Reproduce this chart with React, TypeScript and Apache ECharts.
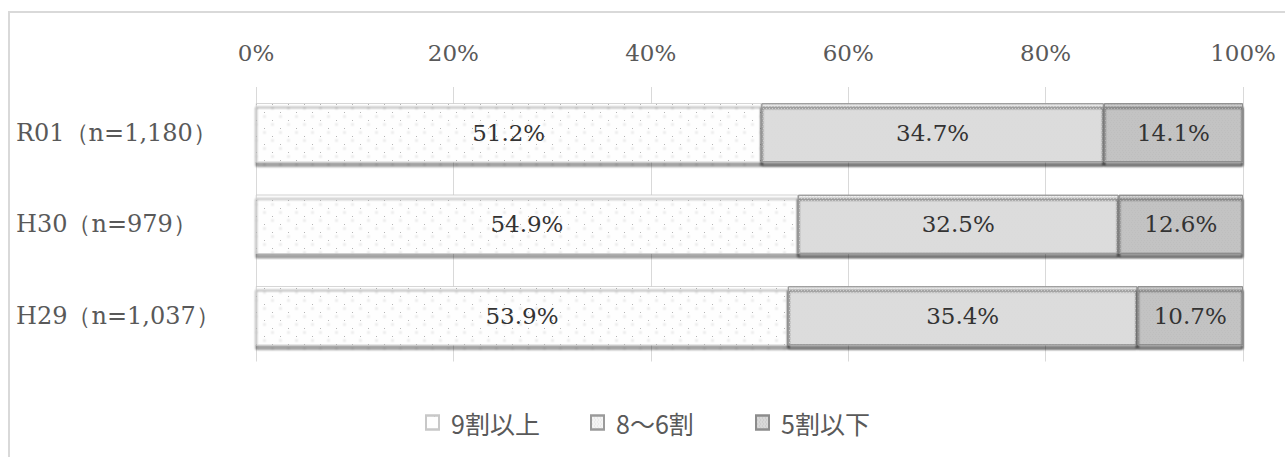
import React, { useEffect, useRef } from "react";
import * as echarts from "echarts";

const categories = ["R01（n=1,180）", "H30（n=979）", "H29（n=1,037）"];
const seriesNames = ["9割以上", "8～6割", "5割以下"];
const over90 = [51.2, 54.9, 53.9];
const mid = [34.7, 32.5, 35.4];
const under50 = [14.1, 12.6, 10.7];
const tickValues = [0, 20, 40, 60, 80, 100];

const SERIF = "DejaVu Serif";
const legendLefts = [425, 590, 755];

export default function App() {
  const ref = useRef<HTMLDivElement>(null);
  useEffect(() => {
    document.body.style.margin = "0";
    const chart = echarts.init(ref.current!, undefined, { renderer: "svg" });
    const shadow = {
      shadowColor: "rgba(0,0,0,0.32)",
      shadowBlur: 2,
      shadowOffsetY: 4,
    };
    const label = {
      show: true,
      position: "inside",
      color: "#333333",
      fontSize: 23,
      fontFamily: SERIF,
      formatter: (p: any) => Number(p.value).toFixed(1) + "%",
    };
    const styles = [
      {
        color: "#fefefe",
        borderColor: "#c8c8c8",
        borderWidth: 0.5,
        decal: {
          symbol: "rect",
          symbolSize: 1,
          color: "rgba(120,120,120,0.55)",
          dashArrayX: [[1, 15], [0, 8, 1, 7]],
          dashArrayY: [1, 7],
        },
        ...shadow,
      },
      {
        color: "#f4f4f4",
        borderColor: "#9a9a9a",
        borderWidth: 1,
        decal: {
          symbol: "rect",
          symbolSize: 1,
          color: "rgba(210,210,210,0.6)",
          dashArrayX: [[1, 2], [0, 1, 1, 1]],
          dashArrayY: [1, 1],
        },
        ...shadow,
      },
      {
        color: "#d8d8d8",
        borderColor: "#8c8c8c",
        borderWidth: 1,
        decal: {
          symbol: "rect",
          symbolSize: 1,
          color: "rgba(180,180,180,0.6)",
          dashArrayX: [[1, 2], [0, 1, 1, 1]],
          dashArrayY: [1, 1],
        },
        ...shadow,
      },
    ];
    const dataSets = [over90, mid, under50];
    chart.setOption({
      animation: false,
      backgroundColor: "#ffffff",
      grid: { left: 256, right: 42, top: 87, height: 274.5, containLabel: false },
      graphic: [
        {
          type: "rect",
          shape: { x: 9, y: 12, width: 1400, height: 600 },
          style: { fill: "none", stroke: "#d9d9d9", lineWidth: 2 },
          silent: true,
        },
      ],
      legend: seriesNames.map((name, i) => ({
        data: [name],
        icon: "rect",
        left: legendLefts[i],
        top: 410,
        padding: 0,
        itemWidth: 13,
        itemHeight: 14,
        textStyle: {
          fontSize: 25,
          fontFamily: "Noto Sans CJK JP",
          color: "#595959",
          padding: [0, 0, 0, 7],
        },
      })),
      xAxis: {
        type: "value",
        position: "top",
        min: tickValues[0],
        max: tickValues[tickValues.length - 1],
        interval: tickValues[1] - tickValues[0],
        axisLine: { show: false },
        axisTick: { show: false },
        splitLine: { show: true, lineStyle: { color: "#d9d9d9", width: 1 } },
        axisLabel: {
          formatter: "{value}%",
          color: "#595959",
          fontSize: 23,
          fontFamily: SERIF,
          margin: 23,
        },
      },
      yAxis: {
        type: "category",
        data: categories,
        inverse: true,
        axisLine: { show: false },
        axisTick: { show: false },
        axisLabel: {
          align: "left",
          margin: 240,
          color: "#595959",
          fontSize: 24,
          fontFamily: SERIF,
        },
      },
      series: seriesNames.map((name, i) => ({
        name,
        type: "bar",
        stack: "total",
        barWidth: 59,
        data: dataSets[i],
        itemStyle: styles[i],
        label,
        emphasis: { disabled: true },
      })),
    });
    return () => chart.dispose();
  }, []);
  return <div ref={ref} style={{ width: 1285, height: 457 }} />;
}
